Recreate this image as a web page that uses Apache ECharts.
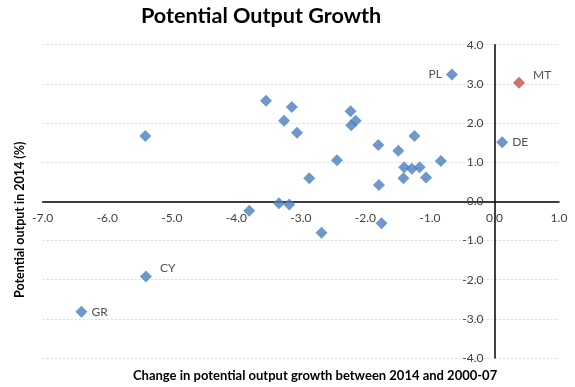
<!DOCTYPE html>
<html>
<head>
<meta charset="utf-8">
<script src="https://cdn.jsdelivr.net/npm/echarts@6/dist/echarts.min.js"></script>
<style>
  html, body { margin: 0; padding: 0; background: #fff; }
  #chart { width: 575px; height: 387px; }
</style>
</head>
<body>
<div id="chart"></div>
<script>
// Country codes (null where the point carries no label)
const countryCodes = [
  'PL', 'DE', 'CY', 'GR',
  null, null, null, null, null, null, null, null, null, null,
  null, null, null, null, null, null, null, null, null, null,
  null, null, null, null, null
];
// Change in potential output growth, 2014 vs 2000-07 (pp)
const xChange = [
  -0.66, 0.12, -5.40, -6.40,
  -5.41, -3.54, -3.14, -3.26, -3.06, -2.23, -2.15, -2.22, -2.44, -2.87,
  -2.68, -1.80, -1.79, -1.75, -1.49, -1.24, -1.40, -1.41, -1.28, -1.16,
  -1.06, -0.83, -3.80, -3.34, -3.18
];
// Potential output growth in 2014 (%)
const yPotential = [
  3.24, 1.51, -1.92, -2.82,
  1.67, 2.57, 2.41, 2.06, 1.75, 2.30, 2.06, 1.94, 1.05, 0.59,
  -0.80, 1.44, 0.42, -0.56, 1.29, 1.67, 0.87, 0.59, 0.83, 0.87,
  0.61, 1.03, -0.24, -0.05, -0.08
];
// Highlighted country
const highlightCode = ['MT'];
const highlightX = [0.38];
const highlightY = [3.03];

const xTicks = { min: -7, max: 1, step: 1 };
const yTicks = { min: -4, max: 4, step: 1 };

const FONT = 'Lato, "Open Sans", sans-serif';
const labelSide = { PL: 'left', DE: 'right', CY: 'right', GR: 'right', MT: 'right' };
const grid = { left: 42.7, right: 16, top: 44.7, bottom: 29 };

function pointData(codes, xs, ys) {
  return xs.map((x, i) => {
    const code = codes[i];
    const item = { value: [x, ys[i]], name: code || '' };
    if (code) {
      item.label = {
        show: true,
        formatter: code,
        position: labelSide[code] || 'right',
        distance: 4,
        offset: (code === 'MT' || code === 'CY') ? [4, -8] : [0, 0]
      };
    }
    return item;
  });
}

const chart = echarts.init(document.getElementById('chart'), null, { renderer: 'canvas' });
chart.setOption({
  animation: false,
  backgroundColor: '#ffffff',
  grid: grid,
  xAxis: {
    type: 'value',
    min: xTicks.min, max: xTicks.max, interval: xTicks.step,
    axisLine: { onZero: false, lineStyle: { color: '#000', width: 1.5 } },
    axisTick: { show: false },
    splitLine: { show: false },
    axisLabel: {
      margin: 11, color: '#404040', fontSize: 12, fontFamily: FONT,
      formatter: v => v.toFixed(1)
    }
  },
  yAxis: {
    type: 'value',
    min: yTicks.min, max: yTicks.max, interval: yTicks.step,
    axisLine: { onZero: false, lineStyle: { color: '#000', width: 1.5 } },
    axisTick: { show: false },
    splitLine: { show: true, lineStyle: { color: '#d9d9d9', type: [2, 2], width: 1 } },
    axisLabel: {
      margin: 11, color: '#404040', fontSize: 12, fontFamily: FONT,
      formatter: v => v.toFixed(1)
    }
  },
  series: [
    {
      type: 'scatter',
      symbol: 'diamond',
      symbolSize: 12,
      z: 3,
      itemStyle: { color: '#4A7EBB' },
      label: { color: '#262626', fontSize: 12, fontFamily: FONT },
      data: pointData(countryCodes, xChange, yPotential)
    },
    {
      type: 'scatter',
      symbol: 'diamond',
      symbolSize: 12,
      z: 3,
      itemStyle: { color: '#C0504D' },
      label: { color: '#262626', fontSize: 12, fontFamily: FONT },
      data: pointData(highlightCode, highlightX, highlightY)
    }
  ],
  graphic: [
    {
      type: 'text',
      left: 141, top: 5,
      style: {
        text: 'Potential Output Growth',
        font: 'bold 21.6px ' + FONT,
        fill: '#000'
      }
    },
    {
      type: 'text',
      left: 133, top: 369,
      style: {
        text: 'Change in potential output growth between 2014 and 2000-07',
        font: 'bold 13px ' + FONT,
        fill: '#000'
      }
    },
    {
      type: 'text',
      x: 26, y: 298,
      rotation: Math.PI / 2,
      style: {
        text: 'Potential output in 2014 (%)',
        font: 'bold 12.5px ' + FONT,
        fill: '#000',
        textAlign: 'left',
        textVerticalAlign: 'bottom'
      }
    }
  ]
});

// Move both axes (line and labels) so they cross at the origin
const origin = chart.convertToPixel({ gridIndex: 0 }, [0, 0]);
const H = 387;
chart.setOption({
  xAxis: { offset: -((H - grid.bottom) - origin[1]) },
  yAxis: { offset: -(origin[0] - grid.left) }
});
</script>
</body>
</html>
